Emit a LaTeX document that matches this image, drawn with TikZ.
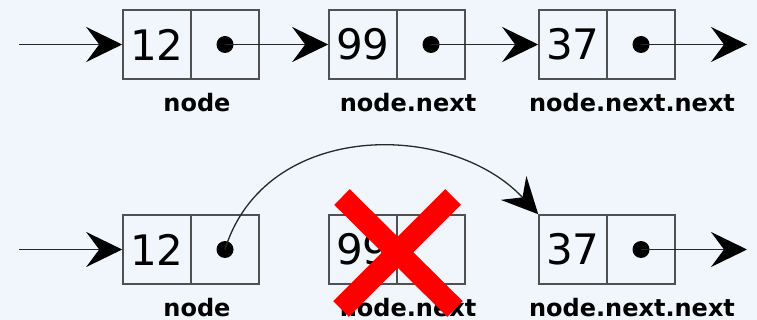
\documentclass[tikz,border=0pt]{standalone}
\usepackage{fontspec}
\setmainfont{DejaVu Sans}
\usetikzlibrary{arrows.meta}
\definecolor{bgc}{RGB}{240,246,251}
\definecolor{boxc}{RGB}{80,80,80}
\definecolor{linec}{RGB}{40,40,40}
\tikzset{
  cell/.style={draw=boxc, line width=1.6pt, minimum width=68pt, minimum height=69pt, inner sep=0pt, font=\fontsize{42}{42}\selectfont},
  ptr/.style={circle, fill=black, minimum size=17pt, inner sep=0pt},
  conn/.style={draw=linec, line width=1.3pt, -{Stealth[length=36pt, width=35pt, inset=13pt, fill=black, color=black]}},
  lbl/.style={anchor=base, font=\bfseries\fontsize{24}{24}\selectfont, inner sep=0pt},
  cross/.style={draw=red, line width=22pt, line cap=butt}
}
\begin{document}
\begin{tikzpicture}[x=1pt, y=-1pt]
\fill[bgc] (0,0) rectangle (757,320);
\useasboundingbox (0,0) rectangle (757,320);
% top row
\node[cell] (a1v) at (157,44.5) {12};
\node[cell] (a1p) at (225,44.5) {};
\node[cell] (b1v) at (363,44.5) {99};
\node[cell] (b1p) at (431,44.5) {};
\node[cell] (c1v) at (573,44.5) {37};
\node[cell] (c1p) at (641,44.5) {};
\node[ptr] (a1d) at (a1p.center) {};
\node[ptr] (b1d) at (b1p.center) {};
\node[ptr] (c1d) at (c1p.center) {};
\coordinate (in1) at (19,44.5);
\coordinate (out1) at (747,44.5);
\draw[conn] (in1) -- (a1v.west);
\draw[conn] (a1d.center) -- (b1v.west);
\draw[conn] (b1d.center) -- (c1v.west);
\draw[conn] (c1d.center) -- (out1);
\node[lbl] (l1a) at (197,112) {node};
\node[lbl] (l1b) at (408,112) {node.next};
\node[lbl] (l1c) at (632,112) {node.next.next};
% bottom row
\node[cell] (a2v) at (157,249.5) {12};
\node[cell] (a2p) at (225,249.5) {};
\node[cell] (b2v) at (363,249.5) {99};
\node[cell] (b2p) at (431,249.5) {};
\node[cell] (c2v) at (573,249.5) {37};
\node[cell] (c2p) at (641,249.5) {};
\node[ptr] (a2d) at (a2p.center) {};
\node[ptr] (c2d) at (c2p.center) {};
\coordinate (in2) at (19,249.5);
\coordinate (out2) at (747,249.5);
\draw[conn] (in2) -- (a2v.west);
\draw[conn] (a2d.center) .. controls (265,120) and (450,120) .. (c2v.north west);
\draw[conn] (c2d.center) -- (out2);
\node[lbl] (l2a) at (197,316) {node};
\node[lbl] (l2b) at (408,316) {node.next};
\node[lbl] (l2c) at (632,316) {node.next.next};
% red cross
\coordinate (x1) at (342,197);
\coordinate (x2) at (455,309);
\coordinate (x3) at (453,197);
\coordinate (x4) at (341,309);
\draw[cross] (x1) -- (x2);
\draw[cross] (x3) -- (x4);
\end{tikzpicture}
\end{document}
